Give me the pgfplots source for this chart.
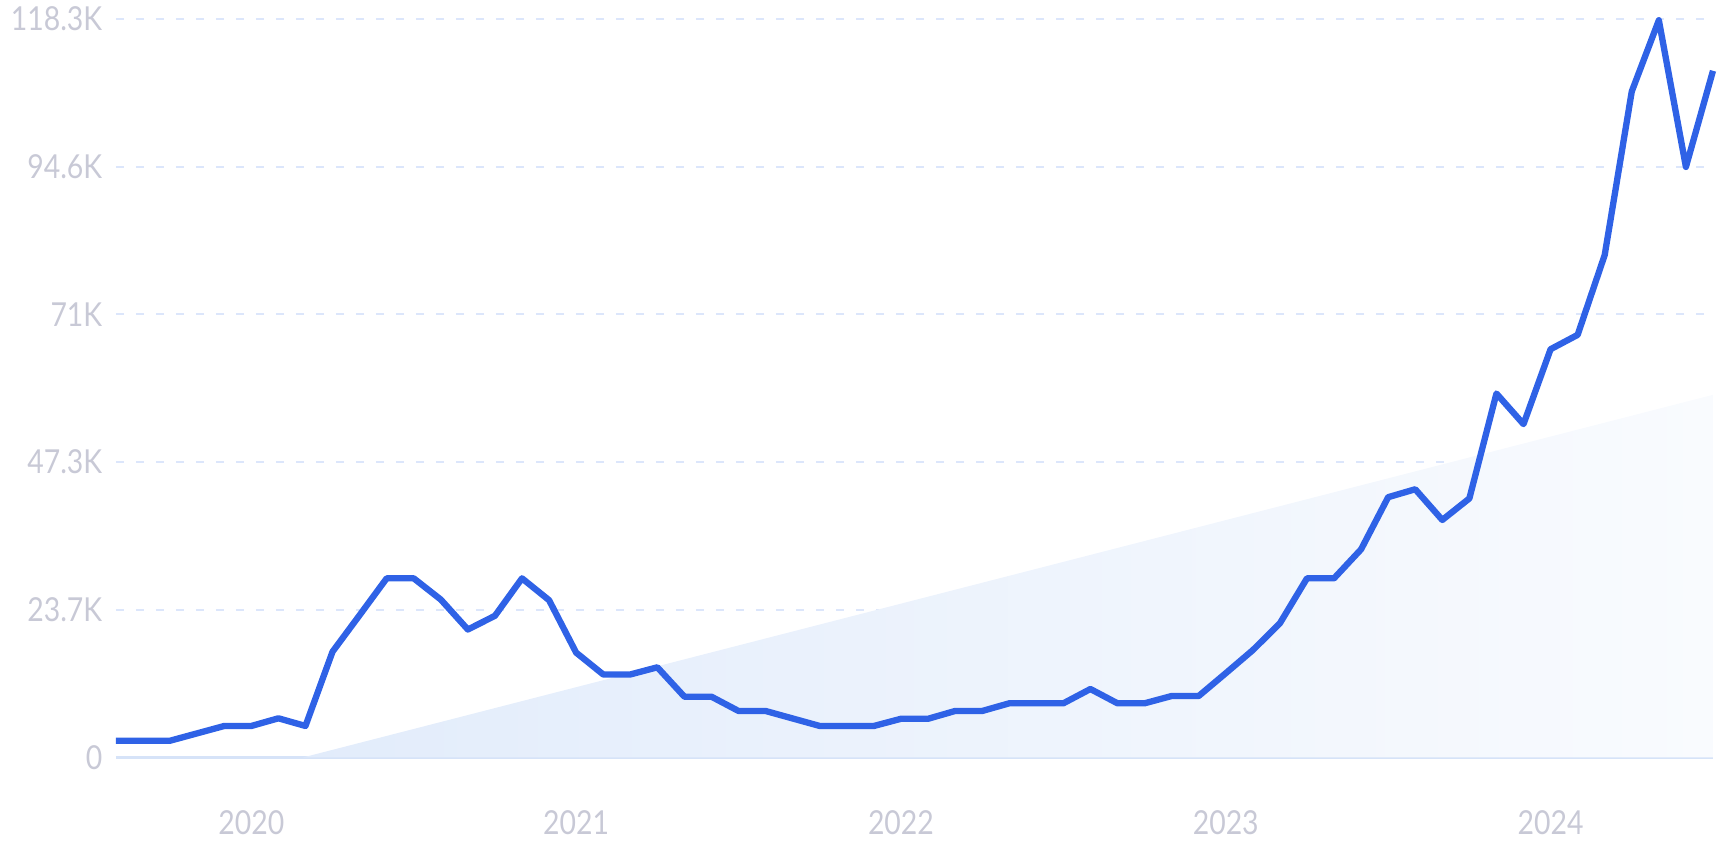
\documentclass[border=0pt]{standalone}
\usepackage{fontspec}
\setmainfont{Lato}
\usepackage{pgfplots}
\pgfplotsset{compat=1.18}
\definecolor{lineblue}{RGB}{47,98,230}
\definecolor{gridblue}{RGB}{220,230,251}
\definecolor{zeroblue}{RGB}{214,227,248}
\definecolor{labgray}{RGB}{200,201,214}
\definecolor{areaL}{RGB}{226,236,251}
\definecolor{areaR}{RGB}{249,251,254}
\newcommand{\sq}[1]{\scalebox{0.86}[1]{#1}}
\begin{document}
\begin{tikzpicture}
\useasboundingbox (-11.6mm,-10.25mm) rectangle (160.4mm,75.75mm);
\begin{axis}[
  scale only axis,
  width=159.7mm, height=73.85mm,
  xmin=0, xmax=59, ymin=0, ymax=118.3,
  clip=false,
  axis line style={draw=none},
  major tick length=0pt,
  xtick={5,17,29,41,53},
  xticklabels={\sq{2020},\sq{2021},\sq{2022},\sq{2023},\sq{2024}},
  ytick={23.66,47.32,70.98,94.64,118.3},
  yticklabels={\sq{23.7K},\sq{47.3K},\sq{71K},\sq{94.6K},\sq{118.3K}},
  extra y ticks={0},
  extra y tick labels={\sq{0}},
  extra y tick style={grid style={solid, draw=zeroblue, line width=0.6pt}},
  ymajorgrids,
  grid style={draw=gridblue, line width=0.55pt, dash pattern=on 0.8mm off 1.2mm},
  ticklabel style={font=\fontsize{9.4}{11}\selectfont, text=labgray, inner sep=0pt},
  yticklabel style={xshift=-1.3mm},
  xticklabel style={yshift=-5.2mm},
]
\addplot[draw=none, left color=areaL, right color=areaR] coordinates {(6.9,0) (59,58.1) (59,0)} -- cycle;
\addplot[lineblue, line width=1.8pt, line join=round, line cap=butt] coordinates {
(0,2.69) (1,2.69) (2,2.69) (3,3.87) (4,5.05) (5,5.05) (6,6.28) (7,5.05) (8,16.95) (9,22.8)
(10,28.7) (11,28.7) (12,25.3) (13,20.5) (14,22.7) (15,28.7) (16,25.2) (17,16.8) (18,13.3) (19,13.3)
(20,14.45) (21,9.74) (22,9.74) (23,7.45) (24,7.45) (25,6.25) (26,5.05) (27,5.05) (28,5.05) (29,6.2)
(30,6.2) (31,7.45) (32,7.45) (33,8.68) (34,8.68) (35,8.68) (36,10.97) (37,8.68) (38,8.68) (39,9.85)
(40,9.85) (41,13.5) (42,17.2) (43,21.5) (44,28.7) (45,28.7) (46,33.35) (47,41.7) (48,42.97) (49,38.05)
(50,41.5) (51,58.3) (52,53.4) (53,65.4) (54,67.7) (55,80.5) (56,106.7) (57,118.1) (58,94.6) (59,110.0)
};
\end{axis}
\end{tikzpicture}
\end{document}
